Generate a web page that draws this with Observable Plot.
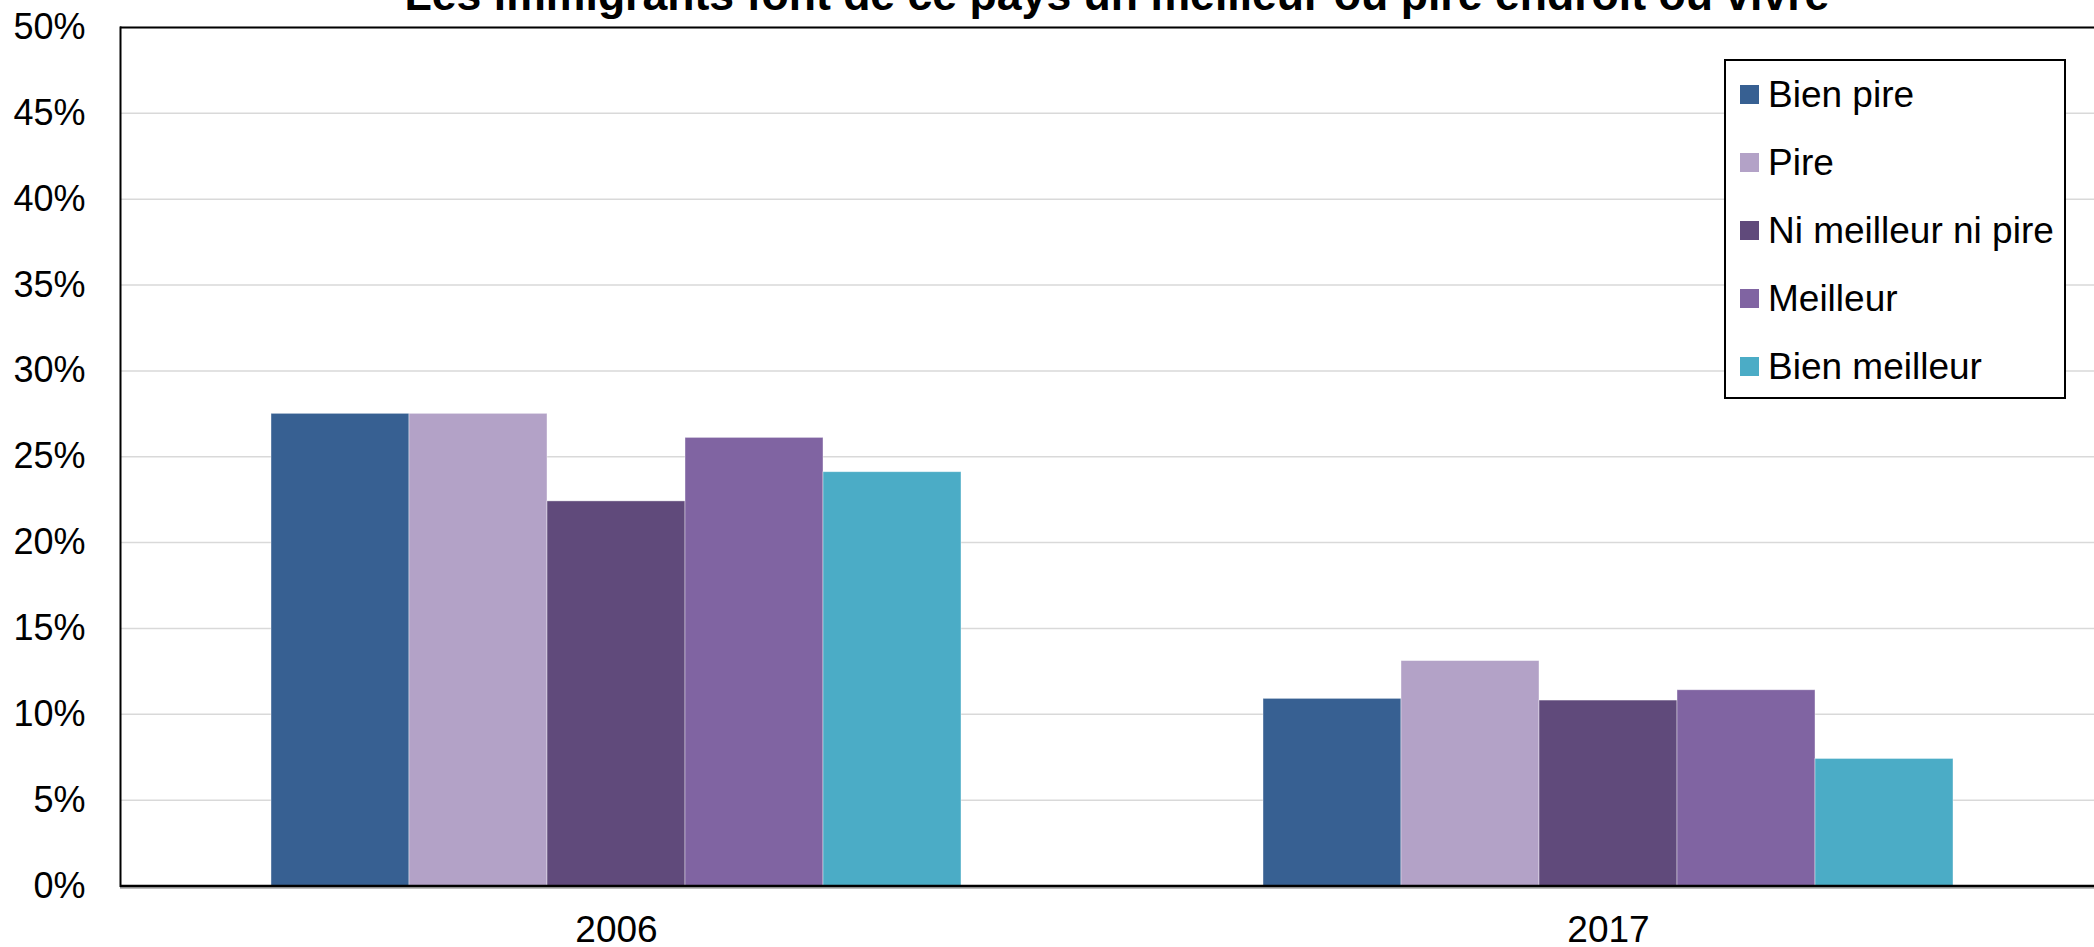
<!DOCTYPE html>
<html>
<head>
<meta charset="utf-8">
<script src="https://cdn.jsdelivr.net/npm/d3@7"></script>
<script src="https://cdn.jsdelivr.net/npm/@observablehq/plot@0.6"></script>
<style>
  html, body { margin: 0; padding: 0; background: #fff; overflow: hidden; }
  #wrap { position: relative; width: 2094px; height: 947px; overflow: hidden; }
  #title {
    position: absolute; left: 1117px; top: -27px; transform: translateX(-50%);
    font-family: "Liberation Sans", Arial, sans-serif; font-weight: bold;
    font-size: 44.6px; line-height: 1; white-space: nowrap; color: #000; z-index: 2;
  }
  #legend {
    position: absolute; left: 1724px; top: 59px; width: 342px; height: 340px;
    box-sizing: border-box; border: 2px solid #000; background: #fff; z-index: 3;
    font-family: "Liberation Sans", Arial, sans-serif; font-size: 37px; color: #000;
  }
  .row { position: absolute; left: 14px; height: 68px; display: flex; align-items: center; white-space: nowrap; }
  .sw { width: 19px; height: 19px; margin-right: 9px; flex: none; }
  .lbl { line-height: 1; }
</style>
</head>
<body>
<div id="wrap">
  <div id="title"></div>
  <div id="chart"></div>
  <div id="legend"></div>
</div>
<script>
const titleText = "Les immigrants font de ce pays un meilleur ou pire endroit où vivre";
const years = ["2006", "2017"];
const series = ["Bien pire", "Pire", "Ni meilleur ni pire", "Meilleur", "Bien meilleur"];
const colors = ["#376092", "#b3a2c7", "#604a7b", "#8064a2", "#4bacc6"];
const values2006 = [27.5, 27.5, 22.4, 26.1, 24.1];
const values2017 = [10.9, 13.1, 10.8, 11.4, 7.4];
const yTicks = [0, 5, 10, 15, 20, 25, 30, 35, 40, 45, 50];
const yLabels = yTicks.map(d => d + "%");

const valuesByYear = [values2006, values2017];
const data = [];
years.forEach((yr, i) => series.forEach((s, j) => data.push({year: yr, series: s, value: valuesByYear[i][j]})));

document.getElementById("title").textContent = titleText;

const font = '"Liberation Sans", Arial, sans-serif';

const chart = Plot.plot({
  width: 2110,
  height: 947,
  marginTop: 27,
  marginBottom: 61.5,
  marginLeft: 119,
  marginRight: 6,
  style: {maxWidth: "none", fontFamily: font, color: "#000", background: "transparent"},
  fx: {domain: years, padding: 0},
  x: {domain: series, paddingInner: 0, paddingOuter: 1.094, axis: null},
  y: {domain: [0, 50]},
  color: {domain: series, range: colors},
  marks: [
    Plot.gridY(yTicks, {stroke: "#d9d9d9", strokeOpacity: 1, strokeWidth: 1.5}),
    Plot.barY(data, {fx: "year", x: "series", y: "value", fill: "series", stroke: "#ffffff", strokeOpacity: 0.5, strokeWidth: 0.8}),
    Plot.ruleY([50], {stroke: "#000", strokeWidth: 2}),
    Plot.ruleY([0], {stroke: "#a6a6a6", strokeWidth: 1.5, dy: 2}),
    Plot.ruleY([0], {stroke: "#000", strokeWidth: 2.5}),
    Plot.frame({anchor: "left", facet: "super", stroke: "#000", strokeWidth: 2}),
    Plot.axisY({ticks: yTicks, tickFormat: (d) => yLabels[yTicks.indexOf(d)], tickSize: 0, tickPadding: 35, fontSize: 36, label: null}),
    Plot.axisFx({anchor: "bottom", tickSize: 0, tickPadding: 30, fontSize: 37, label: null})
  ]
});
document.getElementById("chart").appendChild(chart);

const legend = document.getElementById("legend");
series.forEach((s, i) => {
  const row = document.createElement("div");
  row.className = "row";
  row.style.top = (-1 + i * 68) + "px";
  const sw = document.createElement("div");
  sw.className = "sw";
  sw.style.background = colors[i];
  const lbl = document.createElement("span");
  lbl.className = "lbl";
  lbl.textContent = s;
  row.appendChild(sw);
  row.appendChild(lbl);
  legend.appendChild(row);
});
</script>
</body>
</html>
